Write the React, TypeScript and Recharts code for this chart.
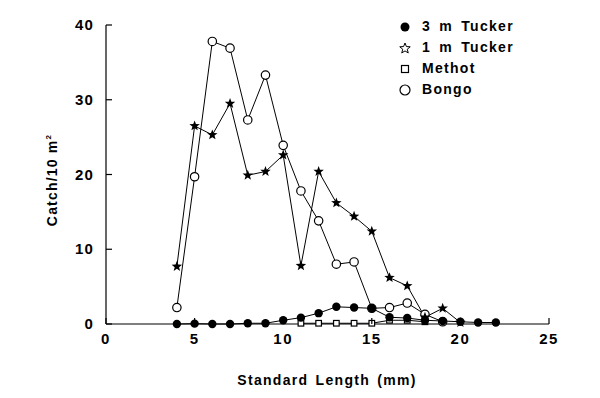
import { CartesianGrid, Line, LineChart, XAxis, YAxis } from "recharts";

// standard length (mm) and catch per 10 m² for each net
const tucker3X = [4, 5, 6, 7, 8, 9, 10, 11, 12, 13, 14, 15, 16, 17, 18, 19, 20, 21, 22];
const tucker3Y = [0, 0.05, 0, 0, 0.1, 0.1, 0.5, 0.85, 1.45, 2.3, 2.2, 2.1, 0.9, 0.8, 0.5, 0.4, 0.3, 0.2, 0.2];

const tucker1X = [4, 5, 6, 7, 8, 9, 10, 11, 12, 13, 14, 15, 16, 17, 18, 19, 20];
const tucker1Y = [7.7, 26.5, 25.3, 29.5, 19.9, 20.4, 22.6, 7.8, 20.4, 16.2, 14.4, 12.4, 6.2, 5.1, 0.9, 2.1, 0.2];

const methotX = [11, 12, 13, 14, 15, 16, 17, 18];
const methotY = [0.1, 0.1, 0.1, 0.1, 0.1, 0.5, 0.5, 0.3];

const bongoX = [4, 5, 6, 7, 8, 9, 10, 11, 12, 13, 14, 15, 16, 17, 18, 19];
const bongoY = [2.2, 19.7, 37.8, 36.9, 27.3, 33.3, 23.9, 17.8, 13.8, 8.0, 8.3, 2.1, 2.2, 2.8, 1.3, 0.3];

const xTicks = [0, 5, 10, 15, 20, 25];
const yTicks = [0, 10, 20, 30, 40];

const FONT = "'Liberation Sans', Arial, Helvetica, sans-serif";

const zip = (xs: number[], ys: number[]) => xs.map((x, i) => ({ x, y: ys[i] }));

function starPath(cx: number, cy: number, R: number, r: number) {
  let d = "";
  for (let i = 0; i < 10; i++) {
    const rad = i % 2 === 0 ? R : r;
    const a = -Math.PI / 2 + (i * Math.PI) / 5;
    d += (i === 0 ? "M" : "L") + (cx + rad * Math.cos(a)).toFixed(2) + "," + (cy + rad * Math.sin(a)).toFixed(2);
  }
  return d + "Z";
}

const FilledDot = (p: any) => <circle key={p.index} cx={p.cx} cy={p.cy} r={4.2} fill="#000" />;
const OpenDot = (p: any) => (
  <circle key={p.index} cx={p.cx} cy={p.cy} r={4.2} fill="#fff" stroke="#000" strokeWidth={1.2} />
);
const StarDot = (p: any) => <path key={p.index} d={starPath(p.cx, p.cy, 5.5, 2.3)} fill="#000" />;
const SquareDot = (p: any) => (
  <rect key={p.index} x={p.cx - 2.8} y={p.cy - 2.8} width={5.6} height={5.6} fill="#fff" stroke="#000" strokeWidth={1.2} />
);

const YTick = (p: any) => (
  <g>
    <line x1={p.x} y1={p.y} x2={p.x + 6} y2={p.y} stroke="#000" strokeWidth={1.2} />
    <text x={p.x - 12} y={p.y + 5} textAnchor="end" fontSize={15} fontWeight="bold" fontFamily={FONT} fill="#000" letterSpacing={1.2}>
      {p.payload.value}
    </text>
  </g>
);

const XTick = (p: any) => (
  <g>
    <line x1={p.x} y1={p.y} x2={p.x} y2={p.y - 6} stroke="#000" strokeWidth={1.2} />
    <text x={p.x} y={p.y + 20} textAnchor="middle" fontSize={15} fontWeight="bold" fontFamily={FONT} fill="#000" letterSpacing={1.5}>
      {p.payload.value}
    </text>
  </g>
);

const legendItems = [
  { label: "3 m Tucker", kind: "filled" },
  { label: "1 m Tucker", kind: "star" },
  { label: "Methot", kind: "square" },
  { label: "Bongo", kind: "open" },
];

function LegendMarker({ kind }: { kind: string }) {
  return (
    <svg width={14} height={14} style={{ display: "block" }}>
      {kind === "filled" && <circle cx={7} cy={7} r={4.5} fill="#000" />}
      {kind === "star" && <path d={starPath(7, 7.5, 5.5, 2.4)} fill="#fff" stroke="#000" strokeWidth={1} />}
      {kind === "square" && <rect x={3.5} y={3.5} width={7} height={7} fill="#fff" stroke="#000" strokeWidth={1.2} />}
      {kind === "open" && <circle cx={7} cy={7} r={5} fill="#fff" stroke="#000" strokeWidth={1.2} />}
    </svg>
  );
}

export default function App() {
  return (
    <div style={{ position: "absolute", left: 0, top: 0, width: 600, height: 398, background: "#fff", fontFamily: FONT }}>
      <LineChart width={600} height={398} margin={{ top: 25, right: 51, bottom: 44, left: 66 }}>
        <CartesianGrid stroke="none" />
        <XAxis
          type="number"
          dataKey="x"
          domain={[0, 25]}
          ticks={xTicks}
          height={30}
          tickSize={0}
          tickMargin={0}
          tick={XTick}
          axisLine={{ stroke: "#000", strokeWidth: 1.2 }}
          allowDuplicatedCategory={false}
        />
        <YAxis
          type="number"
          domain={[0, 40]}
          ticks={yTicks}
          width={40}
          tickSize={0}
          tickMargin={0}
          tick={YTick}
          axisLine={{ stroke: "#000", strokeWidth: 1.2 }}
        />
        <Line data={zip(bongoX, bongoY)} dataKey="y" stroke="#000" strokeWidth={1} dot={OpenDot} isAnimationActive={false} />
        <Line data={zip(tucker1X, tucker1Y)} dataKey="y" stroke="#000" strokeWidth={1} dot={StarDot} isAnimationActive={false} />
        <Line data={zip(methotX, methotY)} dataKey="y" stroke="#000" strokeWidth={1} dot={SquareDot} isAnimationActive={false} />
        <Line data={zip(tucker3X, tucker3Y)} dataKey="y" stroke="#000" strokeWidth={1} dot={FilledDot} isAnimationActive={false} />
      </LineChart>

      <div style={{ position: "absolute", left: 398, top: 16, fontSize: 14, fontWeight: "bold", lineHeight: "21px", letterSpacing: 1.3, wordSpacing: 3 }}>
        {legendItems.map((it) => (
          <div key={it.label} style={{ display: "flex", alignItems: "center", gap: 10 }}>
            <LegendMarker kind={it.kind} />
            <span>{it.label}</span>
          </div>
        ))}
      </div>

      <div
        style={{
          position: "absolute",
          left: 52,
          top: 180,
          transform: "translate(-50%, -50%) rotate(-90deg)",
          whiteSpace: "nowrap",
          fontSize: 14,
          fontWeight: "bold",
          letterSpacing: 1.2,
        }}
      >
        Catch/10 m<sup style={{ fontSize: 8 }}>2</sup>
      </div>

      <div
        style={{
          position: "absolute",
          left: 327,
          top: 380,
          transform: "translate(-50%, -50%)",
          whiteSpace: "nowrap",
          fontSize: 14,
          fontWeight: "bold",
          letterSpacing: 1.3,
          wordSpacing: 2,
        }}
      >
        Standard Length (mm)
      </div>
    </div>
  );
}
